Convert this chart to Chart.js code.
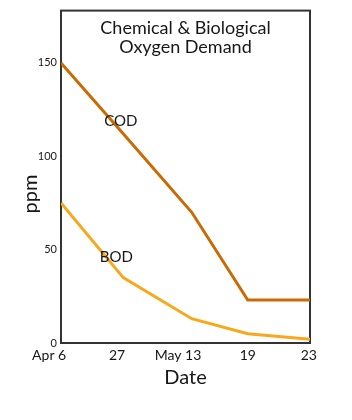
<!DOCTYPE html>
<html>
<head>
<meta charset="utf-8">
<script src="https://cdn.jsdelivr.net/npm/chart.js@4"></script>
<style>
  html, body { margin: 0; padding: 0; background: #fff; }
  #wrap { width: 352px; height: 420px; }
</style>
</head>
<body>
<div id="wrap"><canvas id="chart"></canvas></div>
<script>
// data
const dateLabels = ['Apr 6', '27', 'May 13', '19', '23'];
const pointPos = [0, 1, 2.1, 3, 4];
const tickPos = [-0.19, 0.9, 1.88, 3, 3.98];
const codValues = [150, 112, 70, 23, 23];
const bodValues = [75, 35, 13, 5, 2];
const yTicks = [0, 50, 100, 150];

const FONT = 'Lato, "Noto Sans", sans-serif';
const INK = '#161616';

const toPoints = vals => vals.map((v, i) => ({ x: pointPos[i], y: v }));

// frame, title inside the plot, y title and line labels
const decor = {
    id: 'decor',
    beforeDatasetsDraw(c) {
        const { ctx, chartArea: a } = c;
        ctx.save();
        ctx.strokeStyle = '#333';
        ctx.lineWidth = 2;
        ctx.strokeRect(a.left, a.top, a.right - a.left, a.bottom - a.top);
        ctx.restore();
    },
    afterDatasetsDraw(c) {
        const { ctx, chartArea: a, scales } = c;
        ctx.save();
        ctx.fillStyle = INK;
        ctx.textAlign = 'center';
        ctx.textBaseline = 'middle';
        ctx.font = '18px ' + FONT;
        const cx = (a.left + a.right) / 2;
        ctx.fillText('Chemical & Biological', cx, a.top + 18);
        ctx.fillText('Oxygen Demand', cx, a.top + 37);
        ctx.font = '15px ' + FONT;
        ctx.fillText('COD', scales.x.getPixelForValue(0.96), scales.y.getPixelForValue(119));
        ctx.fillText('BOD', scales.x.getPixelForValue(0.89), scales.y.getPixelForValue(46));
        ctx.font = '20px ' + FONT;
        ctx.translate(31, 194);
        ctx.rotate(-Math.PI / 2);
        ctx.fillText('ppm', 0, 0);
        ctx.restore();
    }
};

new Chart(document.getElementById('chart'), {
    type: 'line',
    data: {
        datasets: [
            {
                label: 'COD',
                data: toPoints(codValues),
                borderColor: '#c96a03',
                borderWidth: 3
            },
            {
                label: 'BOD',
                data: toPoints(bodValues),
                borderColor: '#f7a81b',
                borderWidth: 3
            }
        ]
    },
    options: {
        responsive: true,
        maintainAspectRatio: false,
        animation: false,
        layout: { padding: { top: 6, right: 42, left: 0, bottom: 0 } },
        elements: { point: { radius: 0 }, line: { tension: 0 } },
        plugins: { legend: { display: false }, tooltip: { enabled: false } },
        scales: {
            x: {
                type: 'linear',
                min: 0,
                max: 4,
                afterBuildTicks: s => { s.ticks = tickPos.map(v => ({ value: v })); },
                afterFit: s => { s.height = 77; },
                grid: { display: false, drawTicks: false },
                border: { display: false },
                ticks: {
                    maxRotation: 0,
                    autoSkip: false,
                    padding: 4,
                    color: INK,
                    font: { family: FONT, size: 14 },
                    callback: (v, i) => dateLabels[i]
                },
                title: {
                    display: true,
                    text: 'Date',
                    color: INK,
                    font: { family: FONT, size: 20 },
                    padding: { top: 0, bottom: 30 }
                }
            },
            y: {
                min: 0,
                max: 178,
                afterBuildTicks: s => { s.ticks = yTicks.map(v => ({ value: v })); },
                afterFit: s => { s.width = 61; },
                grid: { display: false, drawTicks: false },
                border: { display: false },
                ticks: {
                    padding: 4,
                    color: INK,
                    font: { family: FONT, size: 11 }
                }
            }
        }
    },
    plugins: [decor]
});
</script>
</body>
</html>
